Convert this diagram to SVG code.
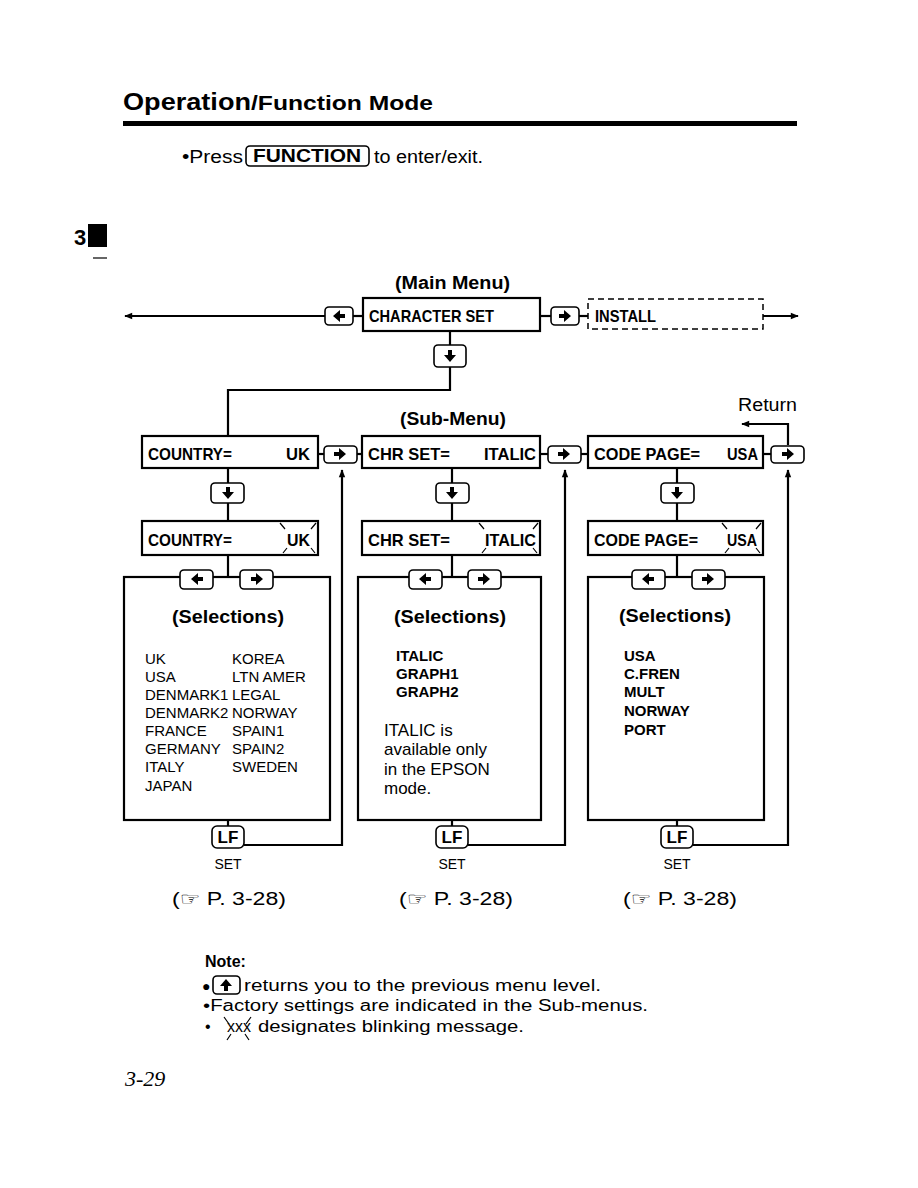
<svg xmlns="http://www.w3.org/2000/svg" width="918" height="1188" viewBox="0 0 918 1188">
<style>
.t{font-family:"Liberation Sans",Arial,sans-serif;fill:#000}
.b{font-weight:bold}
.lcd{font-family:"Liberation Sans Narrow","Liberation Sans",Arial,sans-serif;font-weight:bold;font-size:17px;fill:#000}
.box{fill:#fff;stroke:#000;stroke-width:2.2}
.key{fill:#fff;stroke:#000;stroke-width:1.6}
.ln{fill:none;stroke:#000;stroke-width:2.2}
.bl{fill:none;stroke:#000;stroke-width:1.2}
.lst{font-family:"Liberation Sans",Arial,sans-serif;font-size:15px;fill:#000}
.note{font-family:"Liberation Sans",Arial,sans-serif;font-size:17px;fill:#000}
.ref{font-family:"Liberation Sans","DejaVu Sans",sans-serif;font-size:18px;fill:#000}
</style>
<defs>
<marker id="ah" viewBox="0 0 10 10" refX="9" refY="5" markerWidth="9" markerHeight="8" orient="auto-start-reverse" markerUnits="userSpaceOnUse">
<path d="M0,1 L10,5 L0,9 z" fill="#000"/>
</marker>
<path id="ar" d="M-6,-2 h5 v-4 l7,6 l-7,6 v-4 h-5 z" fill="#000"/>
<path id="al" d="M6,-2 h-5 v-4 l-7,6 l7,6 v-4 h5 z" fill="#000"/>
<path id="ad" d="M-2,-6 v5 h-4 l6,7 l6,-7 h-4 v-5 z" fill="#000"/>
<path id="au" d="M-2,6 v-5 h-4 l6,-7 l6,7 h-4 v5 z" fill="#000"/>
</defs>
<rect width="918" height="1188" fill="#fff"/>

<!-- header -->
<g id="header">
<text class="t b" x="123" y="110" font-size="24" textLength="128" lengthAdjust="spacingAndGlyphs">Operation</text>
<text class="t b" x="251" y="110" font-size="20" textLength="182" lengthAdjust="spacingAndGlyphs">/Function Mode</text>
<rect x="123" y="121" width="674" height="5" fill="#000"/>
<text class="t" x="182" y="163" font-size="18" textLength="61" lengthAdjust="spacingAndGlyphs">•Press</text>
<rect x="246" y="146" width="123" height="20" rx="4" class="key"/>
<text class="t b" x="307" y="162" font-size="18" text-anchor="middle" textLength="108" lengthAdjust="spacingAndGlyphs">FUNCTION</text>
<text class="t" x="374" y="163" font-size="18" textLength="109" lengthAdjust="spacingAndGlyphs">to enter/exit.</text>
</g>

<g id="tab">
<rect x="88" y="224" width="19" height="23" fill="#000"/>
<text x="74" y="245" font-family="Liberation Sans,Arial,sans-serif" font-weight="bold" font-size="22" fill="#000">3</text>
<line x1="93" y1="258" x2="107" y2="258" stroke="#000" stroke-width="1.2"/>
</g>

<text class="t b" x="395" y="289" font-size="18" textLength="115" lengthAdjust="spacingAndGlyphs">(Main Menu)</text>
<text class="t b" x="400" y="425" font-size="18" textLength="106" lengthAdjust="spacingAndGlyphs">(Sub-Menu)</text>
<text class="t" x="738" y="411" font-size="18" textLength="59" lengthAdjust="spacingAndGlyphs">Return</text>

<!-- connectors -->
<g id="connectors">
<line class="ln" x1="325" y1="316" x2="125" y2="316" marker-end="url(#ah)"/>
<line class="ln" x1="353" y1="316" x2="363" y2="316"/>
<line class="ln" x1="540" y1="316" x2="551" y2="316"/>
<line class="ln" x1="579" y1="316" x2="588" y2="316"/>
<line class="ln" x1="763" y1="316" x2="798" y2="316" marker-end="url(#ah)"/>
<polyline class="ln" points="450,332 450,345"/>
<polyline class="ln" points="450,367 450,390 228,390 228,436"/>
<line class="ln" x1="318" y1="454" x2="324" y2="454"/>
<line class="ln" x1="357" y1="454" x2="362" y2="454"/>
<line class="ln" x1="540" y1="454" x2="548" y2="454"/>
<line class="ln" x1="581" y1="454" x2="588" y2="454"/>
<line class="ln" x1="763" y1="454" x2="771" y2="454"/>
<polyline class="ln" points="788,445 788,424 742,424" marker-end="url(#ah)"/>
<line class="ln" x1="228" y1="468" x2="228" y2="483"/>
<line class="ln" x1="228" y1="503" x2="228" y2="521"/>
<line class="ln" x1="228" y1="555" x2="228" y2="577"/>
<line class="ln" x1="452" y1="468" x2="452" y2="483"/>
<line class="ln" x1="452" y1="503" x2="452" y2="521"/>
<line class="ln" x1="452" y1="555" x2="452" y2="577"/>
<line class="ln" x1="677" y1="468" x2="677" y2="483"/>
<line class="ln" x1="677" y1="503" x2="677" y2="521"/>
<line class="ln" x1="677" y1="555" x2="677" y2="577"/>
<line class="ln" x1="228" y1="820" x2="228" y2="826"/>
<line class="ln" x1="452" y1="820" x2="452" y2="826"/>
<line class="ln" x1="677" y1="820" x2="677" y2="826"/>
<polyline class="ln" points="244,845 342,845 342,470" marker-end="url(#ah)"/>
<polyline class="ln" points="468,845 565,845 565,470" marker-end="url(#ah)"/>
<polyline class="ln" points="693,845 788,845 788,470" marker-end="url(#ah)"/>
</g>

<!-- main menu -->
<g id="key-main-left"><rect class="key" x="325" y="307" width="28" height="18" rx="4"/><use href="#al" x="339" y="316"/></g>
<g id="node-charset"><rect class="box" x="363" y="298" width="177" height="33"/><text class="lcd" x="369" y="322" textLength="125" lengthAdjust="spacingAndGlyphs">CHARACTER SET</text></g>
<g id="key-main-right"><rect class="key" x="551" y="307" width="28" height="18" rx="4"/><use href="#ar" x="565" y="316"/></g>
<g id="node-install"><rect x="588" y="299" width="175" height="30" fill="#fff" stroke="#000" stroke-width="1.5" stroke-dasharray="6,4"/><text class="lcd" x="595" y="322" textLength="61" lengthAdjust="spacingAndGlyphs">INSTALL</text></g>
<g id="key-main-down"><rect class="key" x="434" y="345" width="32" height="22" rx="4"/><use href="#ad" x="450" y="356"/></g>

<!-- sub menu row -->
<g id="node-country"><rect class="box" x="142" y="436" width="176" height="32"/><text class="lcd" x="148" y="460" textLength="84" lengthAdjust="spacingAndGlyphs">COUNTRY=</text><text class="lcd" x="286" y="460" textLength="24" lengthAdjust="spacingAndGlyphs">UK</text></g>
<g id="key-r1"><rect class="key" x="324" y="446" width="33" height="17" rx="4"/><use href="#ar" x="340" y="454"/></g>
<g id="node-chrset"><rect class="box" x="362" y="436" width="178" height="32"/><text class="lcd" x="368" y="460" textLength="82" lengthAdjust="spacingAndGlyphs">CHR SET=</text><text class="lcd" x="484" y="460" textLength="52" lengthAdjust="spacingAndGlyphs">ITALIC</text></g>
<g id="key-r2"><rect class="key" x="548" y="446" width="33" height="17" rx="4"/><use href="#ar" x="564" y="454"/></g>
<g id="node-codepage"><rect class="box" x="588" y="436" width="175" height="32"/><text class="lcd" x="594" y="460" textLength="106" lengthAdjust="spacingAndGlyphs">CODE PAGE=</text><text class="lcd" x="727" y="460" textLength="31" lengthAdjust="spacingAndGlyphs">USA</text></g>
<g id="key-r3"><rect class="key" x="771" y="446" width="33" height="17" rx="4"/><use href="#ar" x="788" y="454"/></g>

<g id="key-d1"><rect class="key" x="211" y="483" width="33" height="20" rx="4"/><use href="#ad" x="228" y="493"/></g>
<g id="key-d2"><rect class="key" x="436" y="483" width="33" height="20" rx="4"/><use href="#ad" x="452" y="493"/></g>
<g id="key-d3"><rect class="key" x="661" y="483" width="33" height="20" rx="4"/><use href="#ad" x="677" y="493"/></g>

<!-- blinking row -->
<g id="node-country-blink"><rect class="box" x="142" y="521" width="176" height="34"/><text class="lcd" x="148" y="546" textLength="84" lengthAdjust="spacingAndGlyphs">COUNTRY=</text><text class="lcd" x="287" y="546" textLength="23" lengthAdjust="spacingAndGlyphs">UK</text>
<path class="bl" d="M280,523 l5,6 M316,523 l-5,6 M283,553 l4,-5 M315,553 l-4,-5"/></g>
<g id="node-chrset-blink"><rect class="box" x="362" y="521" width="178" height="34"/><text class="lcd" x="368" y="546" textLength="82" lengthAdjust="spacingAndGlyphs">CHR SET=</text><text class="lcd" x="485" y="546" textLength="51" lengthAdjust="spacingAndGlyphs">ITALIC</text>
<path class="bl" d="M479,523 l5,6 M538,523 l-5,6 M482,553 l4,-5 M537,553 l-4,-5"/></g>
<g id="node-codepage-blink"><rect class="box" x="588" y="521" width="175" height="34"/><text class="lcd" x="594" y="546" textLength="104" lengthAdjust="spacingAndGlyphs">CODE PAGE=</text><text class="lcd" x="727" y="546" textLength="30" lengthAdjust="spacingAndGlyphs">USA</text>
<path class="bl" d="M722,523 l5,6 M761,523 l-5,6 M725,553 l4,-5 M760,553 l-4,-5"/></g>

<!-- selections -->
<g id="node-sel-country"><rect class="box" x="124" y="577" width="206" height="243"/>
<text class="t b" x="172" y="623" font-size="18" textLength="112" lengthAdjust="spacingAndGlyphs">(Selections)</text>
<text class="lst" x="145" y="664">UK</text><text class="lst" x="232" y="664">KOREA</text>
<text class="lst" x="145" y="682">USA</text><text class="lst" x="232" y="682">LTN AMER</text>
<text class="lst" x="145" y="700">DENMARK1</text><text class="lst" x="232" y="700">LEGAL</text>
<text class="lst" x="145" y="718">DENMARK2</text><text class="lst" x="232" y="718">NORWAY</text>
<text class="lst" x="145" y="736">FRANCE</text><text class="lst" x="232" y="736">SPAIN1</text>
<text class="lst" x="145" y="754">GERMANY</text><text class="lst" x="232" y="754">SPAIN2</text>
<text class="lst" x="145" y="772">ITALY</text><text class="lst" x="232" y="772">SWEDEN</text>
<text class="lst" x="145" y="791">JAPAN</text>
</g>
<g id="key-s1l"><rect class="key" x="180" y="570" width="33" height="19" rx="4"/><use href="#al" x="197" y="579"/></g>
<g id="key-s1r"><rect class="key" x="240" y="570" width="33" height="19" rx="4"/><use href="#ar" x="257" y="579"/></g>

<g id="node-sel-chrset"><rect class="box" x="358" y="577" width="183" height="243"/>
<text class="t b" x="394" y="623" font-size="18" textLength="112" lengthAdjust="spacingAndGlyphs">(Selections)</text>
<text class="lst b" x="396" y="661" font-size="14">ITALIC</text>
<text class="lst b" x="396" y="679" font-size="14">GRAPH1</text>
<text class="lst b" x="396" y="697" font-size="14">GRAPH2</text>
<text class="note" x="384" y="736">ITALIC is</text>
<text class="note" x="384" y="755">available only</text>
<text class="note" x="384" y="775">in the EPSON</text>
<text class="note" x="384" y="794">mode.</text>
</g>
<g id="key-s2l"><rect class="key" x="409" y="570" width="33" height="19" rx="4"/><use href="#al" x="425" y="579"/></g>
<g id="key-s2r"><rect class="key" x="468" y="570" width="33" height="19" rx="4"/><use href="#ar" x="484" y="579"/></g>

<g id="node-sel-codepage"><rect class="box" x="588" y="577" width="176" height="243"/>
<text class="t b" x="619" y="622" font-size="18" textLength="112" lengthAdjust="spacingAndGlyphs">(Selections)</text>
<text class="lst b" x="624" y="661" font-size="14">USA</text>
<text class="lst b" x="624" y="679" font-size="14">C.FREN</text>
<text class="lst b" x="624" y="697" font-size="14">MULT</text>
<text class="lst b" x="624" y="716" font-size="14">NORWAY</text>
<text class="lst b" x="624" y="735" font-size="14">PORT</text>
</g>
<g id="key-s3l"><rect class="key" x="632" y="570" width="33" height="19" rx="4"/><use href="#al" x="648" y="579"/></g>
<g id="key-s3r"><rect class="key" x="692" y="570" width="33" height="19" rx="4"/><use href="#ar" x="708" y="579"/></g>

<!-- LF keys -->
<g id="key-lf1"><rect class="key" x="212" y="826" width="32" height="22" rx="5"/><text class="t b" x="228" y="843" font-size="17" text-anchor="middle">LF</text><text class="t" x="228" y="869" font-size="14" text-anchor="middle">SET</text></g>
<g id="key-lf2"><rect class="key" x="436" y="826" width="32" height="22" rx="5"/><text class="t b" x="452" y="843" font-size="17" text-anchor="middle">LF</text><text class="t" x="452" y="869" font-size="14" text-anchor="middle">SET</text></g>
<g id="key-lf3"><rect class="key" x="661" y="826" width="32" height="22" rx="5"/><text class="t b" x="677" y="843" font-size="17" text-anchor="middle">LF</text><text class="t" x="677" y="869" font-size="14" text-anchor="middle">SET</text></g>

<g id="refs">
<text class="ref" x="172" y="905" textLength="114" lengthAdjust="spacingAndGlyphs">(☞ P. 3-28)</text>
<text class="ref" x="399" y="905" textLength="114" lengthAdjust="spacingAndGlyphs">(☞ P. 3-28)</text>
<text class="ref" x="623" y="905" textLength="114" lengthAdjust="spacingAndGlyphs">(☞ P. 3-28)</text>
</g>

<g id="notes">
<text class="t b" x="205" y="967" font-size="16">Note:</text>
<text class="t" x="202" y="991" font-size="14">●</text>
<rect class="key" x="213" y="976" width="27" height="18" rx="4"/><use href="#au" x="226" y="985"/>
<text class="t" x="244" y="991" font-size="16" textLength="357" lengthAdjust="spacingAndGlyphs">returns you to the previous menu level.</text>
<text class="t" x="203" y="1011" font-size="16" textLength="445" lengthAdjust="spacingAndGlyphs">•Factory settings are indicated in the Sub-menus.</text>
<text class="t" x="205" y="1032" font-size="16">•</text>
<text class="t" x="227" y="1032" font-size="16">xxx</text>
<path class="bl" d="M224,1017 l5,7 M251,1017 l-5,7 M227,1040 l4,-6 M249,1040 l-4,-6"/>
<text class="t" x="258" y="1032" font-size="16" textLength="266" lengthAdjust="spacingAndGlyphs">designates blinking message.</text>
</g>

<text x="125" y="1086" font-family="Liberation Serif,Times New Roman,serif" font-style="italic" font-size="22" fill="#000">3-29</text>
</svg>
